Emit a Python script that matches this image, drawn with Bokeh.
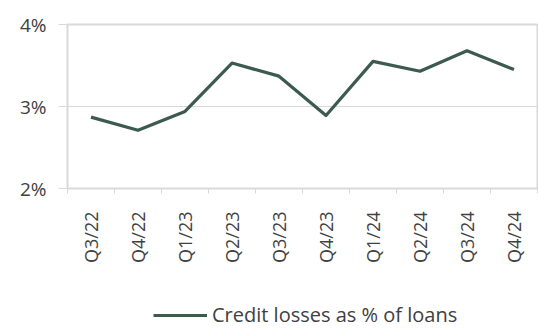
from bokeh.plotting import figure
from bokeh.models import Range1d, FixedTicker, Legend, LegendItem
from bokeh.layouts import column
from bokeh.embed import file_html
from bokeh.resources import INLINE

quarters = ["Q3/22", "Q4/22", "Q1/23", "Q2/23", "Q3/23", "Q4/23", "Q1/24", "Q2/24", "Q3/24", "Q4/24"]
credit_losses = [2.87, 2.71, 2.94, 3.53, 3.37, 2.89, 3.55, 3.43, 3.68, 3.45]
y_ticks = [2, 3, 4]
y_labels = ["2%", "3%", "4%"]
series_name = "Credit losses as % of loans"

FONT = "Open Sans"
TEXT = "#404040"
GRID = "#d9d9d9"
LINE = "#3d5a4f"

xs = list(range(len(quarters)))

p = figure(width=538, height=290, output_backend="svg", toolbar_location=None,
           x_range=Range1d(-0.5, len(quarters) - 0.5), y_range=Range1d(2, 4),
           min_border_left=67, min_border_right=1, min_border_top=24, min_border_bottom=102)
p.background_fill_color = "white"
p.border_fill_color = "white"
p.outline_line_color = GRID
p.outline_line_width = 2

r = p.line(xs, credit_losses, line_color=LINE, line_width=3.2, line_join="round")

# x axis
p.xaxis.ticker = FixedTicker(ticks=xs, minor_ticks=[i - 0.5 for i in range(len(quarters) + 1)])
p.xaxis.major_label_overrides = {i: q for i, q in enumerate(quarters)}
p.xaxis.major_label_orientation = 1.5708
p.xaxis.major_tick_line_color = None
p.xaxis.major_tick_out = 0
p.xaxis.major_tick_in = 0
p.xaxis.minor_tick_out = 5
p.xaxis.minor_tick_in = 0
p.xaxis.minor_tick_line_color = GRID
p.xaxis.axis_line_color = None
p.xaxis.major_label_text_font = FONT
p.xaxis.major_label_text_font_size = "18px"
p.xaxis.major_label_text_color = TEXT
p.xaxis.major_label_standoff = 18
p.xgrid.grid_line_color = None

# y axis
p.yaxis.ticker = FixedTicker(ticks=y_ticks)
p.yaxis.major_label_overrides = {t: l for t, l in zip(y_ticks, y_labels)}
p.yaxis.major_tick_out = 9
p.yaxis.major_tick_in = 0
p.yaxis.major_tick_line_color = GRID
p.yaxis.minor_tick_line_color = None
p.yaxis.axis_line_color = None
p.yaxis.major_label_text_font = FONT
p.yaxis.major_label_text_font_size = "19px"
p.yaxis.major_label_text_color = TEXT
p.yaxis.major_label_standoff = 12
p.ygrid.grid_line_color = GRID
p.ygrid.grid_line_width = 1

# legend strip below the chart (series drawn out of view, only its legend entry shows)
lf = figure(width=538, height=41, output_backend="svg", toolbar_location=None,
            x_axis_type=None, y_axis_type=None,
            x_range=Range1d(-0.5, len(quarters) - 0.5), y_range=Range1d(100, 101),
            min_border_left=0, min_border_right=0, min_border_top=0, min_border_bottom=0)
lf.outline_line_color = None
lf.grid.grid_line_color = None
lr = lf.line(xs, credit_losses, line_color=LINE, line_width=3.2)
legend = Legend(items=[LegendItem(label=series_name, renderers=[lr])],
                location=(86, 3), orientation="horizontal",
                label_text_font=FONT, label_text_font_size="20px", label_text_color=TEXT,
                glyph_width=54, glyph_height=20, label_height=20, label_standoff=5,
                padding=0, margin=0, spacing=0, border_line_color=None,
                background_fill_alpha=0)
lf.add_layout(legend, "center")

layout = column(p, lf, spacing=0)
open("out.html", "w").write(file_html(layout, INLINE))
